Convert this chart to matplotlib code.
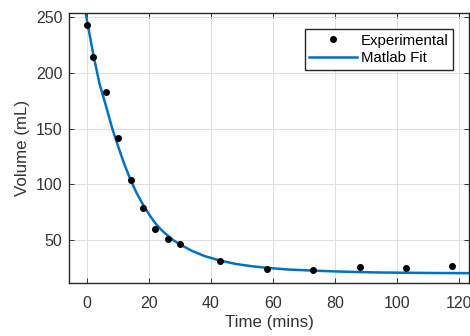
import numpy as np
import matplotlib
matplotlib.use('Agg')
import matplotlib.pyplot as plt

plt.rcParams['font.family'] = ['Liberation Sans', 'DejaVu Sans']

# measured volumes
time_exp = [0, 2, 6, 10, 14, 18, 22, 26, 30, 43, 58, 73, 88, 103, 118]
vol_exp = [243, 214, 183, 142, 104, 79, 60, 51, 46, 31, 24, 23.5, 25.5, 24.5, 26.5]

# fitted curve
time_fit = [-2, 0, 2, 4, 6, 8, 10, 12, 14, 16, 18, 20, 22, 24, 26, 28, 30,
            34, 38, 43, 48, 53, 58, 65, 73, 80, 88, 95, 103, 110, 118, 124]
vol_fit = [280, 246, 216, 190, 171, 151, 134, 118, 104, 92, 82, 73, 65, 59, 54, 49.5, 46,
           40, 35.5, 31.5, 28.5, 26.5, 25, 23.5, 22.5, 21.8, 21.2, 20.8, 20.6, 20.4, 20.3, 20.2]

x_ticks = [0, 20, 40, 60, 80, 100, 120]
y_ticks = [50, 100, 150, 200, 250]

fig = plt.figure(figsize=(4.7, 3.36), dpi=100)
ax = fig.add_axes([0.1474, 0.1568, 0.8506, 0.8036])

ax.plot(time_exp, vol_exp, 'o', color='black', markersize=4, label='Experimental', zorder=3)
ax.plot(time_fit, vol_fit, '-', color='#0072BD', linewidth=1.8, label='Matlab Fit', zorder=2)

ax.set_xlim(-5.8, 123.4)
ax.set_ylim(11.1, 253.6)
ax.set_xticks(x_ticks)
ax.set_yticks(y_ticks)
ax.grid(True, color='#dedede', linewidth=0.7)
ax.set_axisbelow(True)

ax.tick_params(direction='in', top=True, right=True, length=3.5, width=0.7,
               colors='#333333', labelsize=11.5, pad=9)
ax.tick_params(axis='y', pad=5)
for s in ax.spines.values():
    s.set_color('#262626')
    s.set_linewidth(1.0)

ax.set_xlabel('Time (mins)', fontsize=12.2, color='#333333', labelpad=3)
ax.set_ylabel('Volume (mL)', fontsize=12.2, color='#333333', labelpad=4)

leg = ax.legend(loc='upper right', bbox_to_anchor=(0.961, 0.941), borderaxespad=0,
                fontsize=10.8, handlelength=3.2, handletextpad=0.25, borderpad=0.3,
                labelspacing=0.25, fancybox=False, framealpha=1, edgecolor='#262626')
leg.get_frame().set_linewidth(1.0)

fig.savefig('out.png', dpi=100)
